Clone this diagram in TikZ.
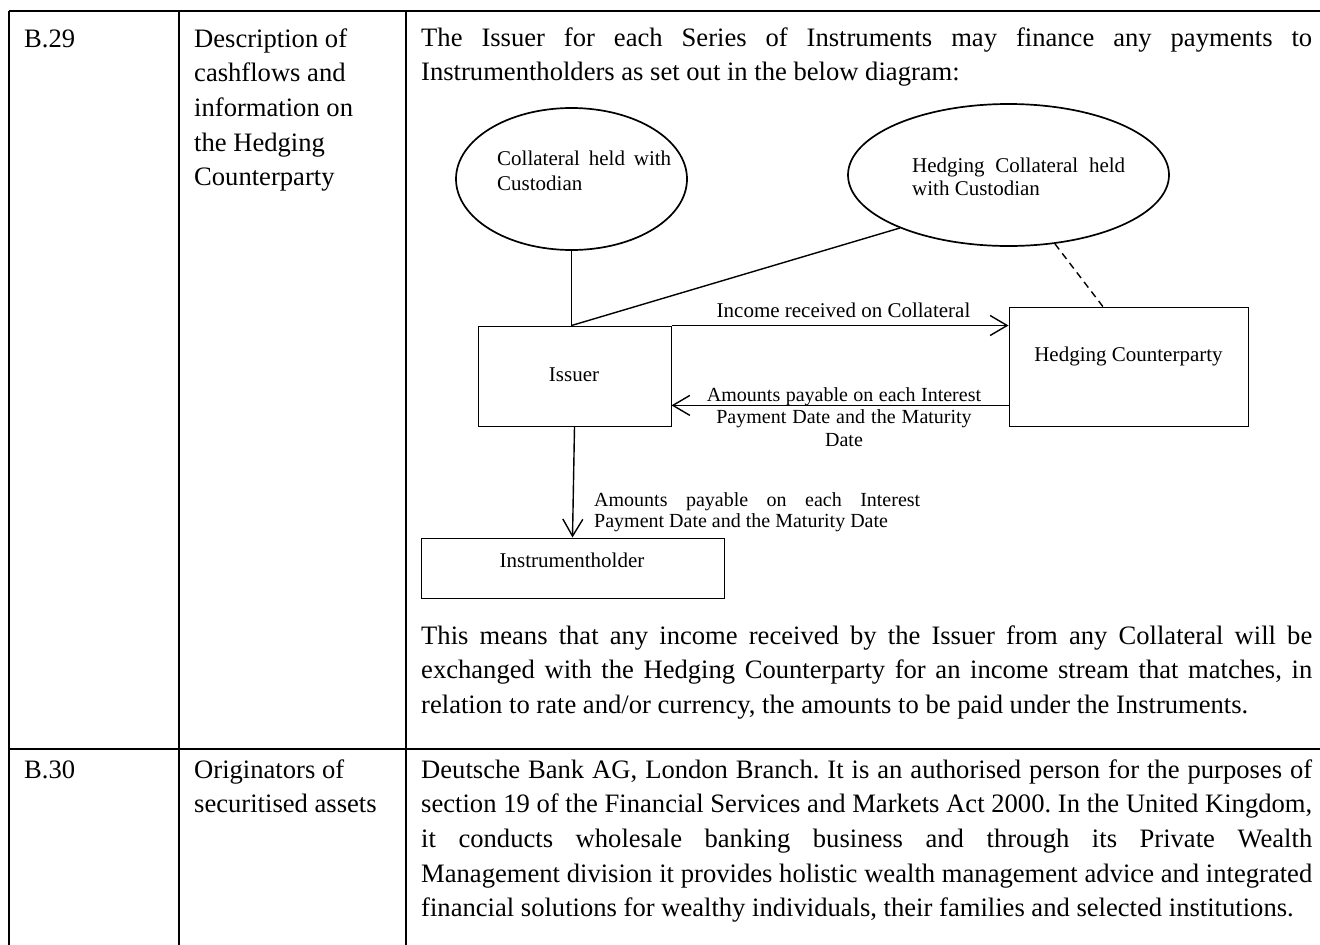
\documentclass[tikz,border=0pt]{standalone}
\usepackage{fontspec}
\setmainfont{Liberation Serif}
\usetikzlibrary{shapes.geometric,arrows.meta,calc}
\newcommand\mybody{\fontsize{26.6bp}{34.7bp}\selectfont}
\newcommand\mydiag{\fontsize{21bp}{25bp}\selectfont}
\newcommand\mysmall{\fontsize{20bp}{22.5bp}\selectfont}
\newcommand\nsp{\spaceskip=0pt\xspaceskip=0pt\frenchspacing\relax}
\newcommand\jline[2]{\makebox[#1][s]{\nsp #2}}
\tikzset{
  tbl/.style={line width=1.6bp},
  box/.style={draw, rectangle, line width=1bp, inner sep=0pt},
  ell/.style={draw, ellipse, line width=1.7bp, inner sep=0pt},
  conn/.style={line width=1.4bp},
  arr/.style={conn, -{Straight Barb[length=17bp,width=20bp,line width=1.4bp]}},
  txt/.style={inner sep=0pt, font=\mybody, anchor=base west},
  para/.style={txt, text width=891bp, align=left},
  dtxt/.style={inner sep=0pt, font=\mydiag},
}
\begin{document}
\begin{tikzpicture}[x=1bp,y=-1bp]
\useasboundingbox (0,0) rectangle (1320,944);
% table
\draw[tbl] (9,11) -- (1322,11);
\draw[tbl] (9,11) -- (9,946);
\draw[tbl] (179,11) -- (179,946);
\draw[tbl] (406,11) -- (406,946);
\draw[tbl] (9,749) -- (1322,749);

% column 1
\node[txt] (b29) at (24,47) {B.29};
\node[txt] (b30) at (24,778) {B.30};
% column 2
\node[txt, text width=205bp, align=left] (c2a) at (194,47) {\nsp Description of\\cashflows and\\information on\\the Hedging\\Counterparty};
\node[txt, text width=205bp, align=left] (c2b) at (194,778) {\nsp Originators of\\securitised assets};
% column 3
\node[para] (p1) at (421,46) {\nsp\jline{891bp}{The Issuer for each Series of Instruments may finance any payments to}\\Instrumentholders as set out in the below diagram:};
\node[para] (p2) at (421,644) {\nsp\jline{891bp}{This means that any income received by the Issuer from any Collateral will be}\\\jline{891bp}{exchanged with the Hedging Counterparty for an income stream that matches, in}\\relation to rate and/or currency, the amounts to be paid under the Instruments.};
\node[para] (p3) at (421,778) {\nsp\jline{891bp}{Deutsche Bank AG, London Branch. It is an authorised person for the purposes of}\\\jline{891bp}{section 19 of the Financial Services and Markets Act 2000. In the United Kingdom,}\\\jline{891bp}{it conducts wholesale banking business and through its Private Wealth}\\\jline{891bp}{Management division it provides holistic wealth management advice and integrated}\\financial solutions for wealthy individuals, their families and selected institutions.};

% diagram shapes
\node[ell, minimum width=231bp, minimum height=142bp] (e1) at (571.5,179) {};
\node[ell, minimum width=321bp, minimum height=142bp] (e2) at (1008.5,175) {};
\node[box, minimum width=193bp, minimum height=100bp] (issuer) at (574.5,376) {};
\node[box, minimum width=239bp, minimum height=119bp] (hc) at (1128.5,366.5) {};
\node[box, minimum width=303bp, minimum height=60bp] (ih) at (572.5,568) {};

% shape texts
\node[dtxt, anchor=base west, text width=180bp, align=left] (e1t) at (497,165) {\nsp\jline{174bp}{Collateral held with}\\Custodian};
\node[dtxt, anchor=base west, text width=220bp, align=left, font=\fontsize{21bp}{23.5bp}\selectfont] (e2t) at (912,172) {\nsp\jline{213bp}{Hedging Collateral held}\\with Custodian};
\node[dtxt, anchor=base] (issuert) at (574,381) {Issuer};
\node[dtxt, anchor=base] (hct) at (1128.5,361) {\nsp Hedging Counterparty};
\node[dtxt, anchor=base] (iht) at (572,567) {Instrumentholder};

% connectors
\draw[conn] (e1.south) -- (e1.south |- issuer.north) coordinate (j);
\draw[conn] (j) -- (e2.206.5);
\draw[conn, dashed, dash pattern=on 7bp off 5bp] (e2.-56) -- ($(hc.north west)!0.393!(hc.north east)$);
\draw[arr] (issuer.north east) -- (issuer.north east -| hc.west);
\draw[arr] ($(hc.south west)!0.176!(hc.north west)$) coordinate (r1) -- (r1 -| issuer.east);
\draw[arr] (issuer.south) -- (ih.north);

% connector labels
\node[dtxt, anchor=base] (l1) at (843.5,317) {\nsp Income received on Collateral};
\node[inner sep=0pt, font=\mysmall, anchor=base, text width=290bp, align=center] (l2) at (844,401) {\nsp Amounts payable on each Interest\\Payment Date and the Maturity\\Date};
\node[inner sep=0pt, font=\fontsize{20bp}{21bp}\selectfont, anchor=base west, text width=330bp, align=left] (l3) at (594,506) {\nsp\jline{326bp}{Amounts payable on each Interest}\\Payment Date and the Maturity Date};
\end{tikzpicture}
\end{document}
